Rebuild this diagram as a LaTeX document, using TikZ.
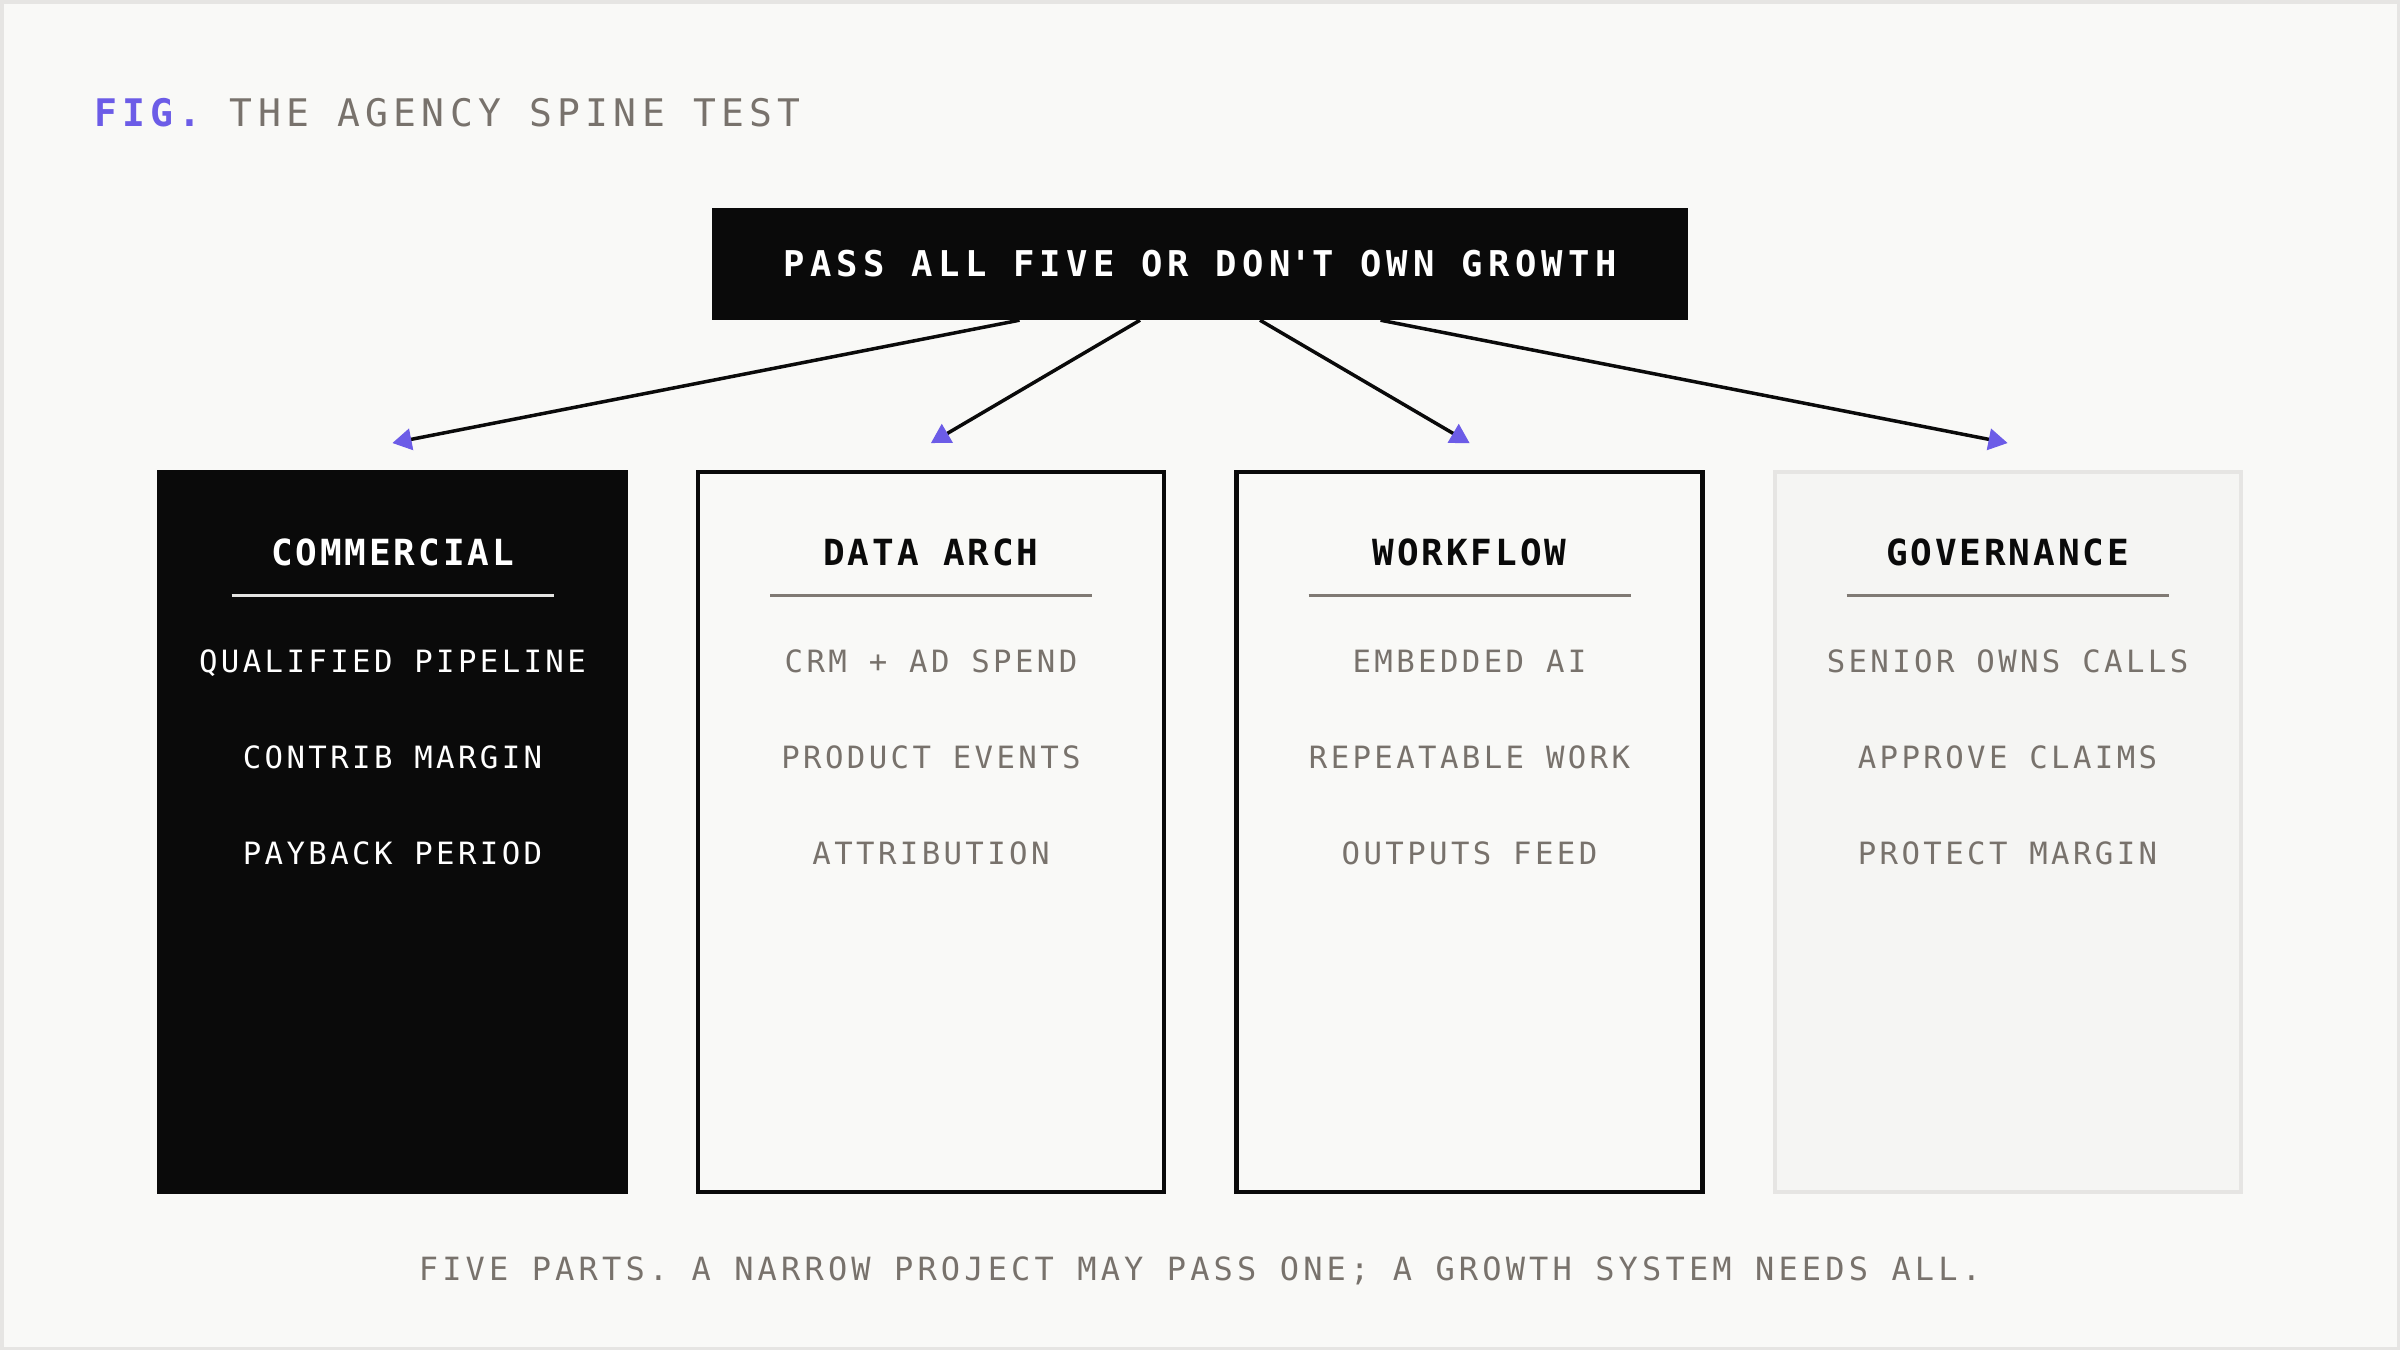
\documentclass[tikz,border=0pt]{standalone}
\usepackage{fontspec}
\usetikzlibrary{arrows.meta}
\setmonofont{DejaVu Sans Mono}
\newfontfamily\fTitle{DejaVu Sans Mono}[LetterSpace=14]
\newfontfamily\fTop{DejaVu Sans Mono}[LetterSpace=15]
\newfontfamily\fHead{DejaVu Sans Mono}[LetterSpace=8]
\newfontfamily\fItem{DejaVu Sans Mono}[LetterSpace=11]
\newfontfamily\fCap{DejaVu Sans Mono}[LetterSpace=13]
\definecolor{bg}{HTML}{F9F9F7}
\definecolor{framegray}{HTML}{E6E5E3}
\definecolor{ink}{HTML}{0A0A0A}
\definecolor{txtgray}{HTML}{78726C}
\definecolor{rulegray}{HTML}{807A74}
\definecolor{figpurple}{HTML}{6C5CE7}
\definecolor{govfill}{HTML}{F5F5F3}
\definecolor{lightrule}{HTML}{E4E4E2}
\begin{document}
\begin{tikzpicture}[x=1pt,y=-1pt,
  colbox/.style={rectangle, minimum width=466pt, minimum height=720pt, line width=4.5pt, inner sep=0pt, outer sep=0pt},
  darkcol/.style={colbox, fill=ink, draw=ink},
  lightcol/.style={colbox, fill=bg, draw=ink},
  govcol/.style={colbox, fill=govfill, draw=framegray, line width=4pt},
  headtext/.style={anchor=base, inner sep=0pt, font=\fontsize{36}{40}\fHead\bfseries},
  itemtext/.style={anchor=base, inner sep=0pt, font=\fontsize{30.7}{34}\fItem},
  headrule/.style={line width=3pt},
  conn/.style={line width=3.5pt, draw=ink, -{Triangle[length=19pt,width=22pt,color=figpurple,line width=1pt]}},
  topbox/.style={rectangle, fill=ink, minimum width=976pt, minimum height=112pt, inner sep=0pt, text=white, font=\fontsize{35.5}{38}\fTop\bfseries}
]
\fill[framegray] (0,0) rectangle (2400,1350);
\fill[bg] (3.5,3.5) rectangle (2396.5,1346.5);
\useasboundingbox (0,0) rectangle (2400,1350);

% title
\node[anchor=base west, inner sep=0pt] (title) at (94,126)
  {\fontsize{38}{40}\fTitle{\bfseries\color{figpurple}FIG.} \color{txtgray}THE AGENCY SPINE TEST};

% top box
\node[topbox] (top) at (1200,264) {PASS ALL FIVE OR DON\textquotesingle T OWN GROWTH};

% columns
\node[darkcol]  (c1) at (392.5,831.75) {};
\node[lightcol] (c2) at (931,831.75) {};
\node[lightcol] (c3) at (1469.5,831.75) {};
\node[govcol]   (c4) at (2007.5,831.75) {};

% headers
\node[headtext, text=white] (h1) at (392.5,565) {COMMERCIAL};
\node[headtext, text=ink]   (h2) at (931,565) {DATA ARCH};
\node[headtext, text=ink]   (h3) at (1469.5,565) {WORKFLOW};
\node[headtext, text=ink]   (h4) at (2007.5,565) {GOVERNANCE};

% rules
\coordinate (r1a) at (231.5,595.7); \coordinate (r1b) at (553.5,595.7);
\coordinate (r2a) at (770,595.7);   \coordinate (r2b) at (1092,595.7);
\coordinate (r3a) at (1308.5,595.7);\coordinate (r3b) at (1630.5,595.7);
\coordinate (r4a) at (1846.5,595.7);\coordinate (r4b) at (2168.5,595.7);
\draw[headrule, lightrule] (r1a) -- (r1b);
\draw[headrule, rulegray] (r2a) -- (r2b);
\draw[headrule, rulegray] (r3a) -- (r3b);
\draw[headrule, rulegray] (r4a) -- (r4b);

% items
\node[itemtext, text=white] (i11) at (392.5,672) {QUALIFIED PIPELINE};
\node[itemtext, text=white] (i12) at (392.5,768) {CONTRIB MARGIN};
\node[itemtext, text=white] (i13) at (392.5,864) {PAYBACK PERIOD};
\node[itemtext, text=txtgray] (i21) at (931,672) {CRM + AD SPEND};
\node[itemtext, text=txtgray] (i22) at (931,768) {PRODUCT EVENTS};
\node[itemtext, text=txtgray] (i23) at (931,864) {ATTRIBUTION};
\node[itemtext, text=txtgray] (i31) at (1469.5,672) {EMBEDDED AI};
\node[itemtext, text=txtgray] (i32) at (1469.5,768) {REPEATABLE WORK};
\node[itemtext, text=txtgray] (i33) at (1469.5,864) {OUTPUTS FEED};
\node[itemtext, text=txtgray] (i41) at (2007.5,672) {SENIOR OWNS CALLS};
\node[itemtext, text=txtgray] (i42) at (2007.5,768) {APPROVE CLAIMS};
\node[itemtext, text=txtgray] (i43) at (2007.5,864) {PROTECT MARGIN};

% connectors
\coordinate (a1) at (392.5,443);
\coordinate (a2) at (931,443);
\coordinate (a3) at (1469.5,443);
\coordinate (a4) at (2007.5,443);
\draw[conn] ([xshift=-180.5pt]top.south) -- (a1);
\draw[conn] ([xshift=-60pt]top.south) -- (a2);
\draw[conn] ([xshift=60pt]top.south) -- (a3);
\draw[conn] ([xshift=180.5pt]top.south) -- (a4);

% caption
\node[anchor=base, inner sep=0pt, text=txtgray, font=\fontsize{32}{36}\fCap] (cap) at (1200,1280)
  {FIVE PARTS. A NARROW PROJECT MAY PASS ONE; A GROWTH SYSTEM NEEDS ALL.};
\end{tikzpicture}
\end{document}
